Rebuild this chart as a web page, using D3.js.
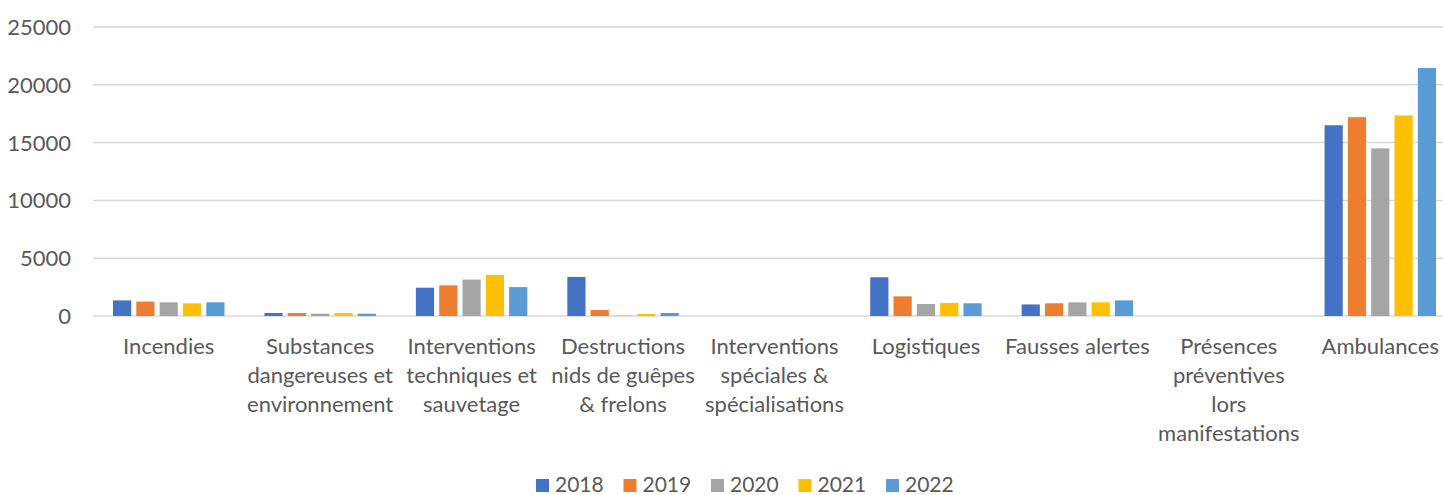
<!DOCTYPE html>
<html>
<head>
<meta charset="utf-8">
<script src="https://cdn.jsdelivr.net/npm/d3@7"></script>
<style>
  html, body { margin: 0; padding: 0; background: #fff; }
  svg { display: block; font-family: Lato, "Open Sans", sans-serif; }
</style>
</head>
<body>
<svg id="chart" width="1443" height="495"></svg>
<script>
// Data
const categories = [
  'Incendies',
  'Substances\ndangereuses et\nenvironnement',
  'Interventions\ntechniques et\nsauvetage',
  'Destructions\nnids de guêpes\n& frelons',
  'Interventions\nspéciales &\nspécialisations',
  'Logistiques',
  'Fausses alertes',
  'Présences\npréventives\nlors\nmanifestations',
  'Ambulances'
];
const years = ['2018', '2019', '2020', '2021', '2022'];
const values2018 = [1350, 260, 2450, 3380, 0, 3350, 1000, 0, 16500];
const values2019 = [1250, 260, 2650, 520, 0, 1700, 1100, 0, 17200];
const values2020 = [1180, 200, 3150, 30, 0, 1040, 1180, 0, 14500];
const values2021 = [1100, 260, 3550, 170, 0, 1130, 1180, 0, 17350];
const values2022 = [1180, 200, 2500, 260, 0, 1100, 1350, 0, 21450];
const yTicks = [0, 5000, 10000, 15000, 20000, 25000];
const colors = ['#4472C4', '#ED7D31', '#A5A5A5', '#FFC000', '#5B9BD5'];

const series = [values2018, values2019, values2020, values2021, values2022];

const svg = d3.select('#chart');
const textColor = '#595959';
const fontSize = 22;

// Scales
const x0 = d3.scaleBand().domain(d3.range(categories.length)).range([93, 1456]).padding(0);
const x1 = d3.scaleBand().domain(years).range([20, x0.bandwidth() - 20]).paddingInner(0.22).paddingOuter(0);
const y = d3.scaleLinear().domain([0, 25000]).range([316, 27]);

// Gridlines
svg.append('g')
  .selectAll('line')
  .data(yTicks)
  .enter()
  .append('line')
  .attr('x1', 93)
  .attr('x2', 1456)
  .attr('y1', d => y(d))
  .attr('y2', d => y(d))
  .attr('stroke', '#D9D9D9')
  .attr('stroke-width', 1.5);

// Y axis labels
svg.append('g')
  .selectAll('text')
  .data(yTicks)
  .enter()
  .append('text')
  .attr('x', 71)
  .attr('y', d => y(d))
  .attr('dy', '0.36em')
  .attr('text-anchor', 'end')
  .attr('font-size', fontSize)
  .attr('fill', textColor)
  .text(d => d);

// Bars
const groups = svg.append('g')
  .selectAll('g')
  .data(categories)
  .enter()
  .append('g')
  .attr('transform', (d, i) => `translate(${x0(i)},0)`);

groups.selectAll('rect')
  .data((d, i) => years.map((yr, k) => ({ yr, v: series[k][i], k })))
  .enter()
  .append('rect')
  .attr('x', d => x1(d.yr))
  .attr('width', x1.bandwidth())
  .attr('y', d => y(d.v))
  .attr('height', d => y(0) - y(d.v))
  .attr('fill', d => colors[d.k]);

// Category labels
const labels = svg.append('g')
  .selectAll('text')
  .data(categories)
  .enter()
  .append('text')
  .attr('text-anchor', 'middle')
  .attr('font-size', fontSize)
  .attr('fill', textColor);

labels.each(function (d, i) {
  const lines = d.split('\n');
  const t = d3.select(this);
  lines.forEach((line, j) => {
    t.append('tspan')
      .attr('x', x0(i) + x0.bandwidth() / 2)
      .attr('y', 354 + j * 29)
      .text(line);
  });
});

// Legend
const legendStart = 536;
const legendStep = 87.5;
const legend = svg.append('g')
  .selectAll('g')
  .data(years)
  .enter()
  .append('g')
  .attr('transform', (d, i) => `translate(${legendStart + i * legendStep},0)`);

legend.append('rect')
  .attr('x', 0)
  .attr('y', 479)
  .attr('width', 13)
  .attr('height', 13)
  .attr('fill', (d, i) => colors[i]);

legend.append('text')
  .attr('x', 19)
  .attr('y', 492)
  .attr('font-size', 21)
  .attr('fill', textColor)
  .text(d => d);
</script>
</body>
</html>
